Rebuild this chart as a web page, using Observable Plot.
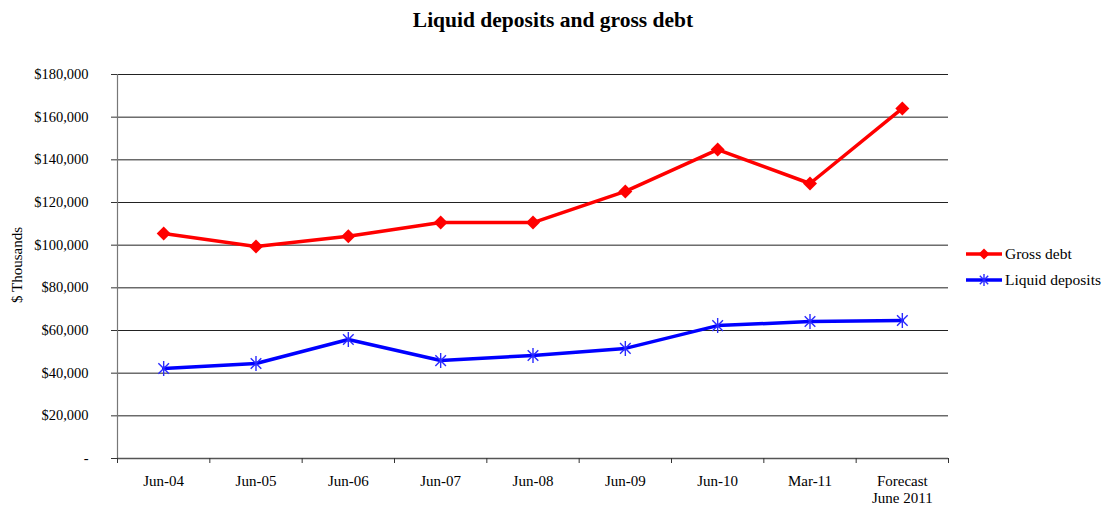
<!DOCTYPE html>
<html><head><meta charset="utf-8">
<script src="https://cdn.jsdelivr.net/npm/d3@7"></script>
<script src="https://cdn.jsdelivr.net/npm/@observablehq/plot@0.6"></script>
<style>
body{margin:0;background:#fff;font-family:"Liberation Serif","Times New Roman",serif;}
#wrap{position:relative;width:1106px;height:506px;overflow:hidden;}
#chart{position:absolute;left:0;top:0;}
#title{position:absolute;left:0;top:8px;width:1106px;text-align:center;font-weight:bold;font-size:21.5px;color:#000;}
#ylabel{position:absolute;left:17px;top:265px;transform:translate(-50%,-50%) rotate(-90deg);font-size:15px;white-space:nowrap;color:#000;}
#legend{position:absolute;left:966px;top:241px;font-size:15.5px;color:#000;}
#legend .row{display:flex;align-items:center;height:26px;}
#legend svg{margin-right:3px;}
</style></head><body>
<div id="wrap"><div id="chart"></div><div id="title">Liquid deposits and gross debt</div><div id="ylabel">$ Thousands</div><div id="legend"></div></div>
<script>
const categories = ["Jun-04","Jun-05","Jun-06","Jun-07","Jun-08","Jun-09","Jun-10","Mar-11","Forecast\nJune 2011"];
const grossDebt = [105500, 99400, 104200, 110600, 110600, 125200, 144800, 128900, 164100];
const liquidDeposits = [42200, 44500, 55800, 45900, 48300, 51600, 62300, 64200, 64700];
const yTicks = [0, 20000, 40000, 60000, 80000, 100000, 120000, 140000, 160000, 180000];
const seriesNames = ["Gross debt", "Liquid deposits"];
const seriesColors = ["#ff0000", "#0000ff"];

const data = [];
categories.forEach((c, i) => {
  data.push({series: seriesNames[0], i: i + 0.5, value: grossDebt[i]});
  data.push({series: seriesNames[1], i: i + 0.5, value: liquidDeposits[i]});
});
const gross = data.filter(d => d.series === seriesNames[0]);
const liquid = data.filter(d => d.series === seriesNames[1]);
const centers = categories.map((c, i) => i + 0.5);
const bounds = d3.range(categories.length + 1);

const asterisk = {
  draw(ctx, size) {
    const r = Math.sqrt(size / Math.PI);
    const t = r * Math.SQRT1_2;
    ctx.moveTo(0, -r); ctx.lineTo(0, r);
    ctx.moveTo(-t, -t); ctx.lineTo(t, t);
    ctx.moveTo(-t, t); ctx.lineTo(t, -t);
  }
};

const fmt = d3.format(",");
const chart = Plot.plot({
  width: 1106,
  height: 506,
  marginLeft: 117,
  marginRight: 158,
  marginTop: 74,
  marginBottom: 48,
  style: {fontFamily: '"Liberation Serif","Times New Roman",serif', fontSize: "14px", color: "#000", background: "#fff"},
  x: {type: "linear", domain: [0, categories.length], axis: null},
  y: {domain: [0, 180000], axis: null},
  marks: [
    Plot.gridY(yTicks, {stroke: "#222", strokeOpacity: 1, strokeWidth: 1}),
    Plot.ruleX([0], {stroke: "#777", strokeWidth: 1.2}),
    Plot.ruleY([0], {stroke: "#555", strokeWidth: 1.5}),
    Plot.axisY(yTicks, {tickSize: 6, tickPadding: 23, fontSize: 14.5, label: null, stroke: "#333",
      tickFormat: d => d === 0 ? "-" : "$" + fmt(d)}),
    Plot.axisX(bounds, {tickSize: 5, tickFormat: () => "", label: null, stroke: "#333"}),
    Plot.axisX(centers, {tickSize: 0, tickPadding: 15, fontSize: 15, lineHeight: 1.15, label: null,
      tickFormat: v => categories[Math.round(v - 0.5)]}),
    Plot.line(gross, {x: "i", y: "value", stroke: seriesColors[0], strokeWidth: 3.5}),
    Plot.line(liquid, {x: "i", y: "value", stroke: seriesColors[1], strokeWidth: 3.5}),
    Plot.dot(gross, {x: "i", y: "value", symbol: "diamond2", r: 6.3, fill: seriesColors[0], stroke: "none"}),
    Plot.dot(liquid, {x: "i", y: "value", symbol: asterisk, r: 7.5, fill: "none", stroke: "#2a2aff", strokeWidth: 1.4})
  ]
});
document.getElementById("chart").appendChild(chart);

const legend = document.getElementById("legend");
seriesNames.forEach((name, k) => {
  const row = document.createElement("div");
  row.className = "row";
  const icon = k === 0
    ? `<svg width="36" height="14"><line x1="0" y1="7" x2="36" y2="7" stroke="${seriesColors[0]}" stroke-width="3.5"/><path d="M18,1.5L23.5,7L18,12.5L12.5,7Z" fill="${seriesColors[0]}"/></svg>`
    : `<svg width="36" height="14"><line x1="0" y1="7" x2="36" y2="7" stroke="${seriesColors[1]}" stroke-width="3.5"/><path d="M18,1V13M13.8,2.8L22.2,11.2M13.8,11.2L22.2,2.8" stroke="#2a2aff" stroke-width="1.4" fill="none"/></svg>`;
  row.innerHTML = icon + `<span>${name}</span>`;
  legend.appendChild(row);
});
</script>
</body></html>
